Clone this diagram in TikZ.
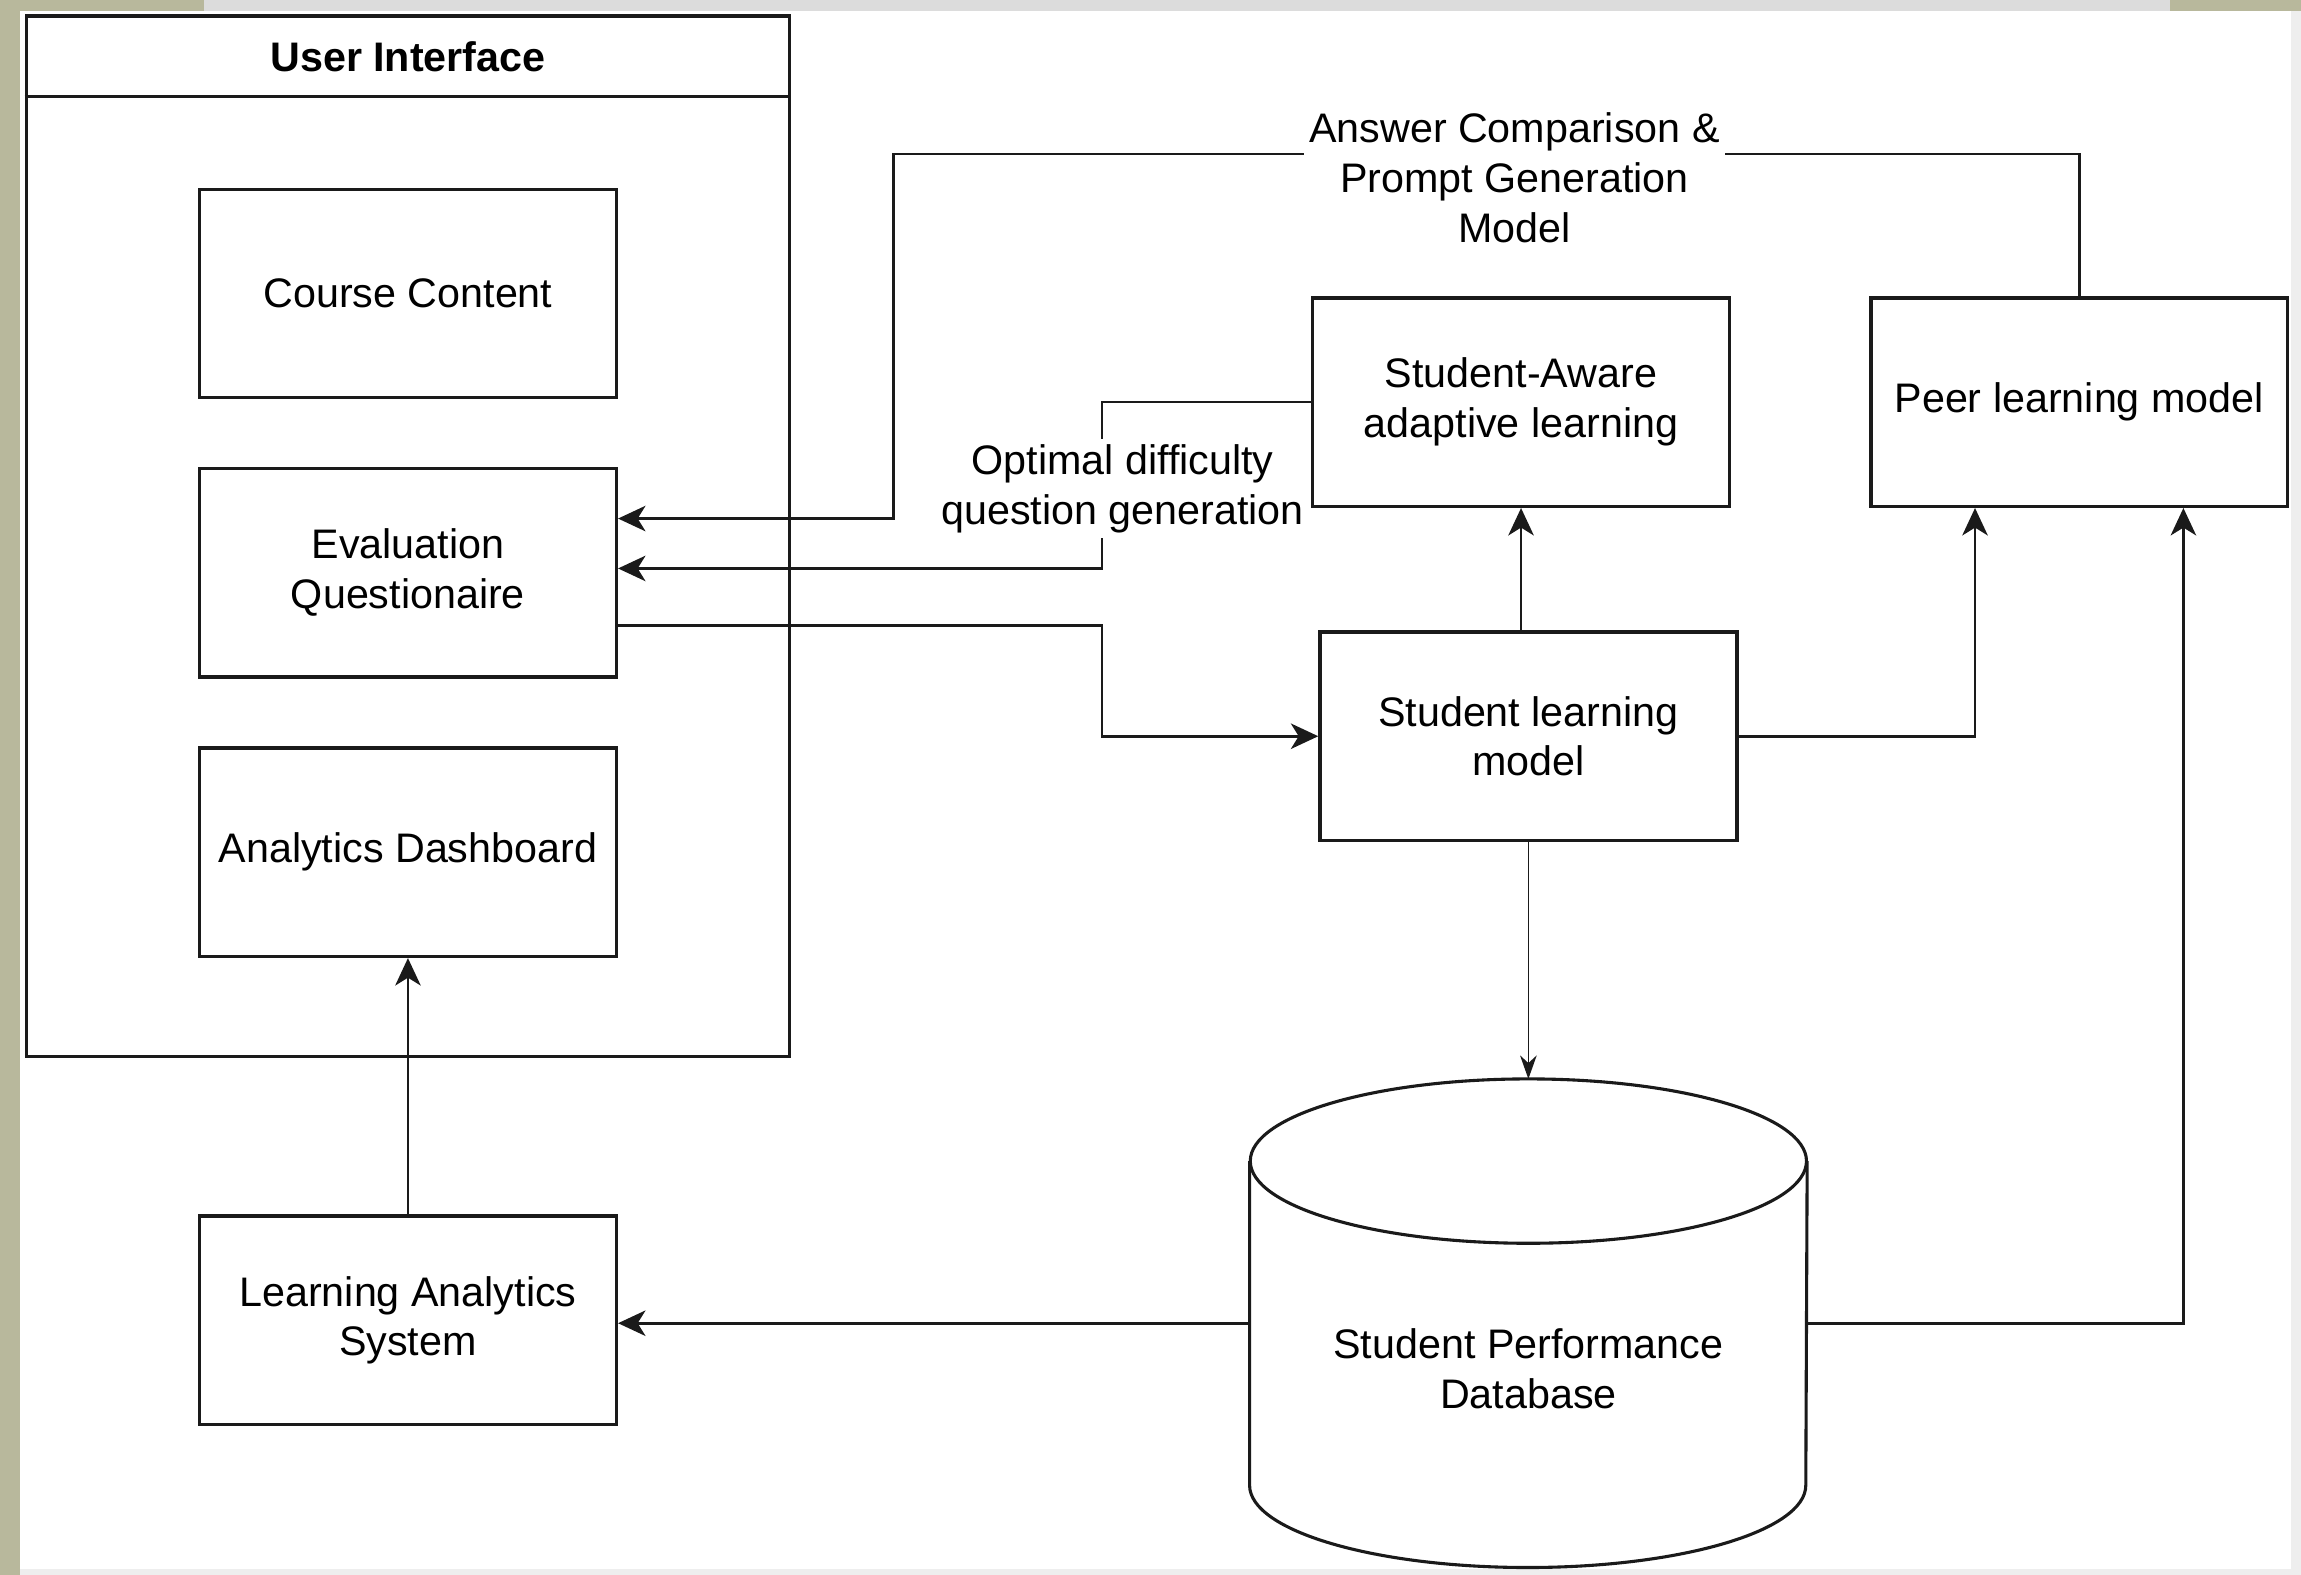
\documentclass[tikz,border=0pt]{standalone}
\usepackage{fontspec}
\setmainfont{Liberation Sans}
\usepackage{tikz}
\usetikzlibrary{shapes,arrows.meta,positioning,calc}

\definecolor{olivebar}{HTML}{B8B89C}
\definecolor{greybar}{HTML}{DCDCDC}
\definecolor{edgegrey}{HTML}{EEEEEE}
\definecolor{linegrey}{HTML}{1A1A1A}

\begin{document}
\begin{tikzpicture}[x=0.015cm, y=-0.015cm, node distance=0.72cm,
    box/.style={draw=linegrey, line width=1pt, minimum width=4.26cm, minimum height=2.13cm, align=center, font=\fontsize{12}{14.5}\selectfont, inner sep=2pt},
    flow/.style={draw=linegrey, line width=0.8pt, -{Stealth[length=2.8mm,width=2.6mm,inset=0.8mm]}},
    thinflow/.style={draw=linegrey, line width=0.5pt, -{Stealth[length=2.4mm,width=1.7mm]}},
    lbl/.style={fill=white, align=center, font=\fontsize{12}{14.5}\selectfont, inner sep=1.5pt},
    dbline/.style={draw=linegrey, line width=0.9pt}]
    % page background
    \useasboundingbox (0,0) rectangle (1568,1073);
    \fill[white] (0,0) rectangle (1568,1073);
    \fill[edgegrey] (1561,0) rectangle (1568,1073);
    \fill[edgegrey] (0,1069) rectangle (1568,1073);
    \fill[greybar] (0,0) rectangle (1568,7.5);
    \fill[olivebar] (0,0) rectangle (139,7.5);
    \fill[olivebar] (1479,0) rectangle (1568,7.5);
    \fill[olivebar] (0,0) rectangle (13.5,1073);

    % user interface panel
    \node[draw=linegrey, line width=1pt, minimum width=7.8cm, minimum height=10.635cm] (ui) at (278,365.5) {};
    \node[font=\fontsize{12}{14.5}\selectfont\bfseries] (uititle) at (278,39) {User Interface};
    \draw[linegrey, line width=1pt] ($(ui.north west)+(0,56)$) -- ($(ui.north east)+(0,56)$);
    \node[box] (cc) at (278,200) {Course Content};
    \node[box, below=0.69cm of cc] (eval) {Evaluation\\Questionaire};
    \node[box, below=0.69cm of eval] (ad) {Analytics Dashboard};
    \node[box, below=2.62cm of ad] (las) {Learning Analytics\\System};

    % models
    \node[box] (sal) at (1036.5,274) {Student-Aware\\adaptive learning};
    \node[box, right=1.41cm of sal] (peer) {Peer learning model};
    \node[box, below=1.25cm of sal, xshift=0.075cm] (slm) {Student learning\\model};

    % database cylinder
    \node[minimum width=5.685cm, minimum height=4.98cm, inner sep=0pt, below=2.42cm of slm] (db) {};
    \draw[dbline] ($(db.north)+(0,56)$) ellipse [x radius=2.8425cm, y radius=0.84cm];
    \draw[dbline] ($(db.north west)+(0,56)$) -- ($(db.south west)+(0,-56)$)
        arc[start angle=180, end angle=360, x radius=2.8425cm, y radius=0.84cm]
        -- ($(db.north east)+(0,56)$);
    \node[align=center, font=\fontsize{12}{14.5}\selectfont] (dbtext) at ($(db.center)+(0,31)$) {Student Performance\\Database};

    % connectors
    \draw[flow] (peer.north) |- (609,105) |- ($(eval.east)+(0,-37)$);
    \node[lbl] (acpg) at (1032,121) {Answer Comparison \&\\Prompt Generation\\Model};
    \draw[flow] (sal.west) -| (751,330) |- ($(eval.east)+(0,-3)$);
    \node[lbl] (odqg) at (765,333) {Optimal difficulty\\question generation};
    \draw[flow] ($(eval.east)+(0,36)$) -| (751,463) |- (slm.west);
    \draw[flow] (sal.south |- slm.north) -- (sal.south);
    \draw[flow] (slm.east) -| ($(peer.south)+(-71,0)$);
    \draw[thinflow] (slm.south) -- (db.north);
    \draw[flow] (db.west) -- (las.east |- db.west);
    \draw[flow] (db.east) -| ($(peer.south)+(71,0)$);
    \draw[flow] (las.north) -- (ad.south);
\end{tikzpicture}
\end{document}
